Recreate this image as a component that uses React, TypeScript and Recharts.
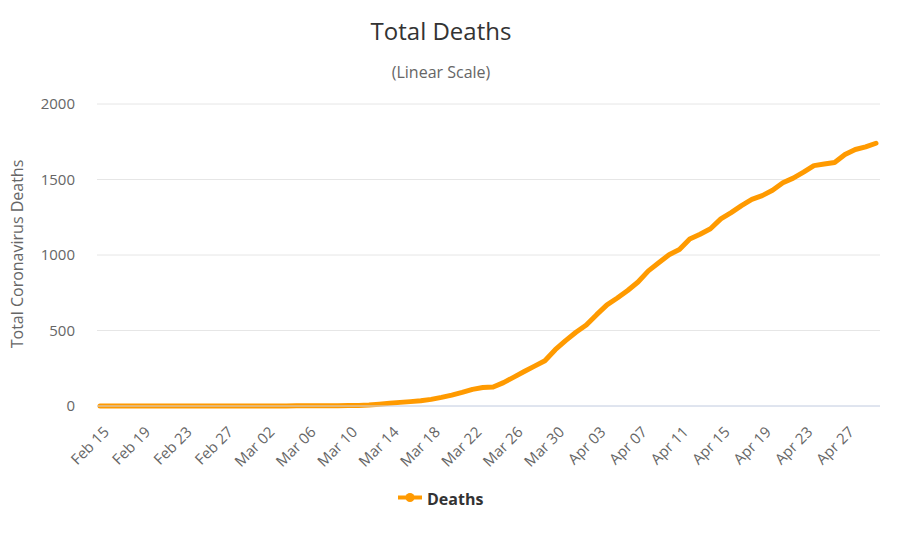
import React from "react";
import { LineChart, Line, XAxis, YAxis, CartesianGrid } from "recharts";

const dates: string[] = [
  "Feb 15", "Feb 16", "Feb 17", "Feb 18", "Feb 19", "Feb 20", "Feb 21", "Feb 22", "Feb 23", "Feb 24",
  "Feb 25", "Feb 26", "Feb 27", "Feb 28", "Feb 29", "Mar 01", "Mar 02", "Mar 03", "Mar 04", "Mar 05",
  "Mar 06", "Mar 07", "Mar 08", "Mar 09", "Mar 10", "Mar 11", "Mar 12", "Mar 13", "Mar 14", "Mar 15",
  "Mar 16", "Mar 17", "Mar 18", "Mar 19", "Mar 20", "Mar 21", "Mar 22", "Mar 23", "Mar 24", "Mar 25",
  "Mar 26", "Mar 27", "Mar 28", "Mar 29", "Mar 30", "Mar 31", "Apr 01", "Apr 02", "Apr 03", "Apr 04",
  "Apr 05", "Apr 06", "Apr 07", "Apr 08", "Apr 09", "Apr 10", "Apr 11", "Apr 12", "Apr 13", "Apr 14",
  "Apr 15", "Apr 16", "Apr 17", "Apr 18", "Apr 19", "Apr 20", "Apr 21", "Apr 22", "Apr 23", "Apr 24",
  "Apr 25", "Apr 26", "Apr 27", "Apr 28", "Apr 29", "Apr 30",
];

const deaths: number[] = [
  0, 0, 0, 0, 0, 0, 0, 0, 0, 0,
  0, 0, 0, 0, 0, 0, 0, 0, 0, 1,
  1, 1, 2, 2, 3, 4, 6, 12, 18, 24,
  29, 35, 44, 57, 72, 90, 110, 122, 126, 155,
  191, 228, 264, 300, 373, 433, 488, 536, 605, 670,
  715, 765, 821, 895, 948, 1002, 1036, 1106, 1138, 1174,
  1239, 1281, 1327, 1368, 1393, 1429, 1478, 1509, 1549, 1592,
  1602, 1612, 1665, 1699, 1716, 1740,
];

const tickDates: string[] = [
  "Feb 15", "Feb 19", "Feb 23", "Feb 27", "Mar 02", "Mar 06", "Mar 10", "Mar 14", "Mar 18", "Mar 22",
  "Mar 26", "Mar 30", "Apr 03", "Apr 07", "Apr 11", "Apr 15", "Apr 19", "Apr 23", "Apr 27",
];

const yTicks: number[] = [0, 500, 1000, 1500, 2000];

const data = dates.map((d, i) => ({ date: d, deaths: deaths[i] }));

const FONT = '"Open Sans", sans-serif';
const LINE_COLOR = "#FF9A00";

const XTick = (props: any) => {
  const { x, y, payload } = props;
  return (
    <g transform={`translate(${x + 10},${y + 27})`}>
      <text
        x={0}
        y={0}
        textAnchor="end"
        fill="#666666"
        fontSize={15}
        fontFamily={FONT}
        transform="rotate(-45)"
      >
        {payload.value}
      </text>
    </g>
  );
};

export default function App() {
  return (
    <div style={{ position: "relative", width: 900, height: 533, margin: -8, background: "#fff", fontFamily: FONT }}>
      <div
        style={{
          position: "absolute",
          left: 441,
          top: 18.7,
          transform: "translateX(-50%)",
          fontSize: 24,
          lineHeight: "24px",
          color: "#333333",
          whiteSpace: "nowrap",
        }}
      >
        Total Deaths
      </div>
      <div
        style={{
          position: "absolute",
          left: 441,
          top: 64,
          transform: "translateX(-50%)",
          fontSize: 16,
          lineHeight: "16px",
          color: "#666666",
          whiteSpace: "nowrap",
        }}
      >
        (Linear Scale)
      </div>
      <div
        style={{
          position: "absolute",
          left: 17,
          top: 254,
          transform: "translate(-50%, -50%) rotate(-90deg)",
          fontSize: 16,
          lineHeight: "16px",
          color: "#666666",
          whiteSpace: "nowrap",
        }}
      >
        Total Coronavirus Deaths
      </div>
      <LineChart
        width={900}
        height={533}
        data={data}
        margin={{ top: 104, right: 20, bottom: 67, left: 37 }}
      >
        <CartesianGrid vertical={false} stroke="#e6e6e6" />
        <XAxis
          dataKey="date"
          ticks={tickDates}
          interval={0}
          height={60}
          tick={<XTick />}
          tickLine={false}
          tickSize={0}
          tickMargin={0}
          axisLine={{ stroke: "#ccd6eb", strokeWidth: 1 }}
          padding={{ left: 3, right: 4 }}
        />
        <YAxis
          width={60}
          domain={[0, 2000]}
          ticks={yTicks}
          interval={0}
          tickLine={false}
          axisLine={false}
          tickSize={6}
          tickMargin={16}
          tick={{ fill: "#666666", fontSize: 15, fontFamily: FONT }}
        />
        <Line
          type="linear"
          dataKey="deaths"
          stroke={LINE_COLOR}
          strokeWidth={5}
          strokeLinejoin="round"
          strokeLinecap="round"
          dot={false}
          isAnimationActive={false}
        />
      </LineChart>
      <svg style={{ position: "absolute", left: 398, top: 491 }} width={24} height={13}>
        <line x1={0} y1={6.5} x2={24} y2={6.5} stroke={LINE_COLOR} strokeWidth={4} />
        <circle cx={12} cy={6.5} r={4.5} fill={LINE_COLOR} />
      </svg>
      <div
        style={{
          position: "absolute",
          left: 427,
          top: 490.8,
          fontSize: 16,
          lineHeight: "16px",
          fontWeight: "bold",
          color: "#333333",
          whiteSpace: "nowrap",
        }}
      >
        Deaths
      </div>
    </div>
  );
}
